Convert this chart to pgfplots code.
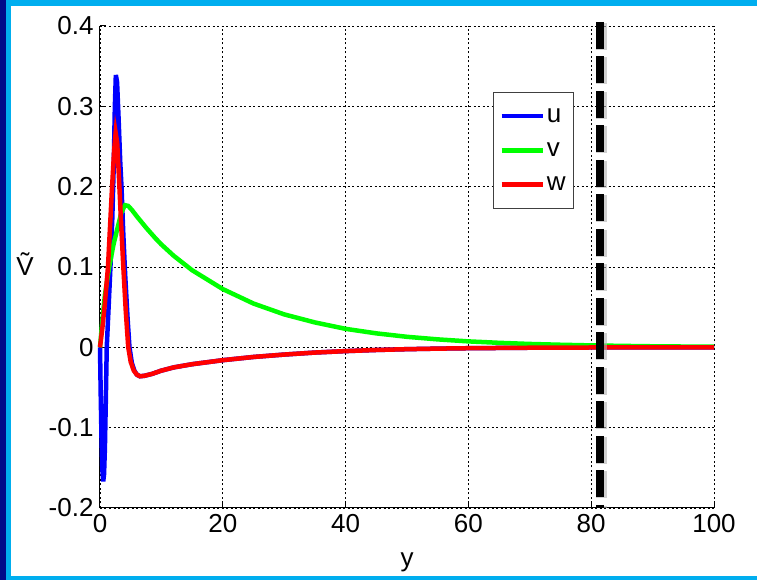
\documentclass[border=0pt]{standalone}
\usepackage{fontspec}
\setmainfont{Liberation Sans}
\usepackage{pgfplots}
\pgfplotsset{compat=1.18}
\definecolor{navy}{HTML}{000A8A}
\definecolor{frameblue}{HTML}{00AEEF}

\begin{document}
\begin{tikzpicture}
% slide frame
\useasboundingbox (0pt,0pt) rectangle (757pt,580pt);
\fill[white] (0pt,0pt) rectangle (757pt,580pt);
\fill[frameblue] (0pt,574pt) rectangle (757pt,580pt);
\fill[frameblue] (0pt,0pt) rectangle (757pt,4pt);
\fill[navy] (0pt,0pt) rectangle (6pt,580pt);
\fill[frameblue] (6pt,0pt) rectangle (11pt,580pt);

\begin{axis}[
  at={(100pt,72pt)}, anchor=south west,
  width=614pt, height=482pt, scale only axis,
  xmin=0, xmax=100, ymin=-0.2, ymax=0.4,
  xtick={0,20,40,60,80,100},
  ytick={-0.2,-0.1,0,0.1,0.2,0.3,0.4},
  yticklabels={-0.2,-0.1,0,0.1,0.2,0.3,0.4},
  xticklabels={0,20,40,60,80,100},
  tick label style={font=\fontsize{26}{30}\selectfont},
  yticklabel style={xshift=-3pt},
  xticklabel style={yshift=-3pt},
  label style={font=\fontsize{26}{30}\selectfont},
  axis x line*=bottom, axis y line*=left,
  axis line style={black, line width=1pt},
  tick align=inside, major tick length=6pt,
  tick style={black, line width=1pt},
  grid=major,
  grid style={black, line width=0.7pt, dash pattern=on 2pt off 2.5pt},
  xlabel={y},
  xlabel style={at={(rel axis cs:0.5,-0.112)}, anchor=center},
  ylabel={\~V},
  ylabel style={rotate=-90, anchor=base, at={(rel axis cs:-0.122,0.483)}},
  clip=false,
  legend style={at={(0.64,0.863)}, anchor=north west, draw=black!75, line width=0.8pt,
    font=\fontsize{26}{30}\selectfont, inner xsep=6pt, inner ysep=14pt,
    row sep=15pt, cells={anchor=west}},
  legend image code/.code={\draw[#1] (0pt,0pt) -- (41pt,0pt);},
]
\addplot[blue, line width=4.5pt] coordinates {
(0,0) (0.12,-0.06) (0.25,-0.115) (0.38,-0.152) (0.52,-0.167) (0.66,-0.158) (0.8,-0.125)
(0.95,-0.065) (1.1,0) (1.4,0.05) (1.7,0.1) (2.0,0.16) (2.25,0.23) (2.42,0.3)
(2.58,0.339) (2.78,0.33) (3.0,0.29) (3.3,0.23) (3.5,0.2) (3.8,0.14) (4.1,0.09)
(4.5,0.035) (4.8,0.0) (5.2,-0.02) (5.6,-0.029) (6.0,-0.034) (6.5,-0.036)
(7.2,-0.0355) (8.5,-0.033) (10,-0.029) (12,-0.025) (15,-0.021) (20,-0.016)
(25,-0.012) (30,-0.009) (35,-0.0065) (40,-0.0047) (45,-0.0033) (50,-0.0023)
(55,-0.0016) (60,-0.0011) (70,-0.0005) (80,-0.0002) (90,0) (100,0)};
\addlegendentry{u}
\addplot[green, line width=4.5pt] coordinates {
(0,0) (0.4,0.035) (0.8,0.065) (1.5,0.1) (2.2,0.128) (2.9,0.15) (3.5,0.168)
(4.07,0.177) (4.6,0.176) (5.2,0.171) (6,0.163) (7.5,0.149) (9,0.136) (10,0.128)
(12,0.114) (15,0.096) (20,0.0725) (25,0.0545) (30,0.041) (35,0.031) (40,0.023)
(45,0.0174) (50,0.0131) (55,0.0099) (60,0.0074) (65,0.0056) (70,0.0042)
(75,0.0032) (80,0.0024) (85,0.0018) (90,0.0013) (93,0.0011) (100,0.0008)};
\addlegendentry{v}
\addplot[red, line width=4.5pt] coordinates {
(0,0) (0.4,0.025) (0.8,0.055) (1.3,0.1) (1.9,0.19) (2.3,0.245) (2.55,0.267)
(2.8,0.255) (3.1,0.21) (3.4,0.16) (3.8,0.1) (4.2,0.045) (4.6,0.0) (5.0,-0.018)
(5.5,-0.029) (6.0,-0.034) (6.5,-0.036) (7.2,-0.0355) (8.5,-0.033) (10,-0.029)
(12,-0.025) (15,-0.021) (20,-0.016) (25,-0.012) (30,-0.009) (35,-0.0065)
(40,-0.0047) (45,-0.0033) (50,-0.0023) (55,-0.0016) (60,-0.0011) (70,-0.0005)
(80,-0.0002) (90,0) (100,0)};
\addlegendentry{w}
% boundary marker with soft shadow
\addplot[black!30, opacity=0.6, line width=11pt, dash pattern=on 27pt off 7.5pt, forget plot]
  coordinates {(81.6,0.404) (81.6,-0.2)};
\addplot[black, line width=7.5pt, dash pattern=on 27pt off 7.5pt, forget plot]
  coordinates {(81.4,0.405) (81.4,-0.2)};
\end{axis}
\end{tikzpicture}
\end{document}
